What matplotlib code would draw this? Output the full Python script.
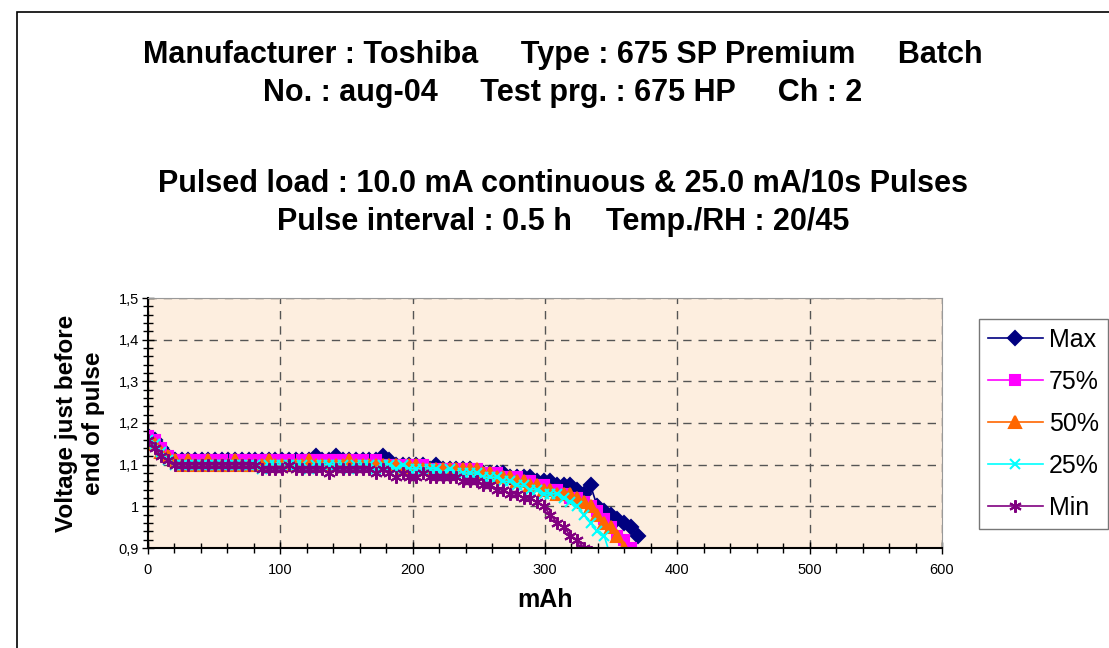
import matplotlib

matplotlib.use("Agg")
import matplotlib.pyplot as plt
from matplotlib.patches import Rectangle
from matplotlib.ticker import MultipleLocator, FuncFormatter

plt.rcParams["font.family"] = ["Liberation Sans", "DejaVu Sans"]

# mAh at each pulse (about 5 mAh between pulses)
mah = [0, 5.1, 10.2, 15.2, 20.3, 25.4, 30.4, 35.5, 40.6, 45.6,
       50.7, 55.8, 60.8, 65.9, 71.0, 76.0, 81.1, 86.2, 91.2, 96.3,
       101.4, 106.4, 111.5, 116.6, 121.6, 126.7, 131.8, 136.8, 141.9, 147.0,
       152.0, 157.1, 162.2, 167.2, 172.3, 177.4, 182.4, 187.5, 192.6, 197.6,
       202.7, 207.8, 212.8, 217.9, 223.0, 228.0, 233.1, 238.2, 243.2, 248.3,
       253.4, 258.4, 263.5, 268.6, 273.6, 278.7, 283.8, 288.8, 293.9, 299.0,
       304.0, 309.1, 314.2, 319.2, 324.3, 329.4, 334.4, 339.5, 344.6, 349.6,
       354.7, 359.8, 364.8, 369.9]

v_max = [1.17, 1.16, 1.14, 1.12, 1.11,
         1.11, 1.11, 1.11, 1.11, 1.11, 1.11, 1.11, 1.11, 1.11, 1.11, 1.11, 1.11, 1.11, 1.11, 1.11,
         1.11, 1.11, 1.11, 1.11, 1.11, 1.12, 1.11, 1.11, 1.12, 1.11, 1.11, 1.11, 1.11, 1.11, 1.11, 1.12, 1.11, 1.10,
         1.10, 1.10, 1.10, 1.10, 1.09, 1.10, 1.09, 1.09, 1.09, 1.09, 1.09, 1.08,
         1.08, 1.08, 1.08, 1.08, 1.07, 1.07, 1.07, 1.07, 1.06, 1.06,
         1.06, 1.05, 1.05, 1.05, 1.04, 1.03, 1.05,
         1.00, 0.99, 0.98, 0.97, 0.96, 0.95, 0.93]

v_75 = [1.17, 1.16, 1.14, 1.12, 1.11,
        1.11, 1.11, 1.11, 1.11, 1.11, 1.11, 1.11, 1.10, 1.11, 1.11, 1.11, 1.11, 1.11, 1.11, 1.11,
        1.11, 1.11, 1.10, 1.11, 1.11, 1.11, 1.11, 1.11, 1.11, 1.11, 1.11, 1.11, 1.11, 1.10, 1.11, 1.10,
        1.10, 1.10, 1.10, 1.10, 1.10, 1.10,
        1.09, 1.09, 1.09, 1.09, 1.09, 1.09, 1.09, 1.09,
        1.08, 1.08, 1.08, 1.07, 1.07, 1.07,
        1.06, 1.06, 1.05, 1.05,
        1.04, 1.04, 1.03, 1.02,
        1.02, 1.01, 1.00, 0.99,
        0.97, 0.95, 0.93, 0.92, 0.90]

v_50 = [1.16, 1.15, 1.13, 1.12, 1.11,
        1.10, 1.11, 1.10, 1.10, 1.11, 1.10, 1.10, 1.10, 1.11, 1.10, 1.10, 1.10, 1.10, 1.11, 1.10,
        1.10, 1.10, 1.10, 1.10, 1.11, 1.10, 1.10, 1.10, 1.10, 1.10, 1.11, 1.10, 1.10, 1.10, 1.10,
        1.10, 1.10, 1.10, 1.09, 1.10, 1.10,
        1.09, 1.09, 1.09, 1.09, 1.09, 1.09, 1.09, 1.09, 1.09,
        1.08, 1.08, 1.07, 1.07, 1.07, 1.06,
        1.06, 1.05, 1.05, 1.04, 1.04, 1.03,
        1.03, 1.03, 1.02, 1.01,
        1.00, 0.98, 0.96, 0.95, 0.93, 0.90]

v_25 = [1.16, 1.15, 1.13, 1.11, 1.10,
        1.10, 1.10, 1.10, 1.10, 1.10, 1.10, 1.10, 1.10, 1.10, 1.10, 1.10, 1.10, 1.09, 1.10, 1.10,
        1.10, 1.10, 1.10, 1.10, 1.09, 1.10, 1.10, 1.10, 1.10, 1.10, 1.09, 1.10, 1.10, 1.10, 1.09,
        1.10, 1.10, 1.09, 1.10,
        1.09, 1.09, 1.09, 1.09, 1.09, 1.08, 1.09, 1.08, 1.08,
        1.08, 1.08, 1.07, 1.07, 1.07, 1.06,
        1.06, 1.05, 1.05, 1.04, 1.04, 1.03,
        1.03, 1.03, 1.02, 1.01,
        1.00, 0.98, 0.96, 0.94, 0.93, 0.88]

v_min = [1.16, 1.14, 1.12, 1.11, 1.10,
         1.10, 1.10, 1.10, 1.10, 1.10, 1.10, 1.10, 1.10, 1.10, 1.10, 1.10, 1.10,
         1.09, 1.09, 1.09, 1.09, 1.10, 1.09, 1.09, 1.09, 1.09, 1.09, 1.08, 1.09, 1.09, 1.09,
         1.09, 1.09, 1.09, 1.08,
         1.09, 1.08, 1.07, 1.08, 1.07, 1.07, 1.08, 1.07, 1.07, 1.07,
         1.07, 1.07, 1.06, 1.06, 1.06, 1.05,
         1.05, 1.04, 1.04, 1.03, 1.03, 1.02, 1.02,
         1.01, 1.00, 0.98, 0.96, 0.95, 0.93, 0.92, 0.90, 0.89]

series = [
    ("Max", v_max, "#000080", "D", 7),
    ("75%", v_75, "#FF00FF", "s", 7),
    ("50%", v_50, "#FF6600", "^", 8),
    ("25%", v_25, "#00FFFF", "x", 7.5),
    ("Min", v_min, "#800080", (6, 2, 0), 9),
]

fig = plt.figure(figsize=(11.09, 6.48), dpi=100)
ax = fig.add_axes([148 / 1109, 1 - 548 / 648, 794 / 1109, 250 / 648])
ax.set_facecolor("#FDEEDF")

for name, vals, col, mk, ms in series:
    ax.plot(mah[:len(vals)], vals, color=col, marker=mk, markersize=ms,
            markeredgewidth=1.5, linewidth=1.2, label=name)

ax.set_xlim(0, 600)
ax.set_ylim(0.9, 1.5)
ax.xaxis.set_major_locator(MultipleLocator(100))
ax.xaxis.set_minor_locator(MultipleLocator(20))
ax.yaxis.set_major_locator(MultipleLocator(0.1))
ax.yaxis.set_minor_locator(MultipleLocator(0.02))
ax.yaxis.set_major_formatter(FuncFormatter(lambda v, p: ("%g" % round(v, 2)).replace(".", ",")))
ax.tick_params(which="major", direction="inout", length=9, width=1, labelsize=10.5)
ax.tick_params(which="minor", direction="inout", length=7, width=1)
ax.tick_params(axis="x", pad=6)
ax.tick_params(axis="y", pad=2)
ax.grid(True, which="major", linestyle=(0, (6, 5)), color="#555555", linewidth=1)

for side in ["top", "right"]:
    ax.spines[side].set_color("#999999")
for side in ["left", "bottom"]:
    ax.spines[side].set_color("black")
    ax.spines[side].set_linewidth(1.5)

ax.set_xlabel("mAh", fontsize=18, fontweight="bold", labelpad=8)
ax.set_ylabel("Voltage just before\nend of pulse", fontsize=17.5, fontweight="bold",
              labelpad=10, linespacing=1.2)

leg = ax.legend(loc="upper left", bbox_to_anchor=(979 / 1109, 1 - 319 / 648),
                bbox_transform=fig.transFigure, fontsize=18, frameon=True,
                fancybox=False, edgecolor="#555555", handlelength=2.2,
                labelspacing=0.72, borderpad=0.35, handletextpad=0.25, borderaxespad=0)
leg.get_frame().set_linewidth(1)

title_lines = [
    ("Manufacturer : Toshiba     Type : 675 SP Premium     Batch", 55),
    ("No. : aug-04     Test prg. : 675 HP     Ch : 2", 93),
    ("Pulsed load : 10.0 mA continuous & 25.0 mA/10s Pulses", 183),
    ("Pulse interval : 0.5 h    Temp./RH : 20/45", 222),
]
for txt, ypx in title_lines:
    fig.text(563 / 1109, 1 - ypx / 648, txt, ha="center", va="center",
             fontsize=22, fontweight="bold")

fig.patches.append(Rectangle((17 / 1109, -0.1), 1.2, 1.1 - 12 / 648,
                             transform=fig.transFigure, fill=False,
                             edgecolor="black", linewidth=1.2))

fig.savefig("out.png", dpi=100)
